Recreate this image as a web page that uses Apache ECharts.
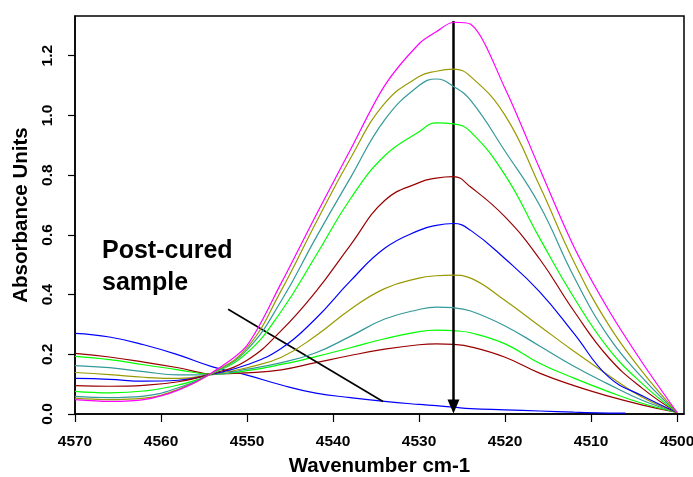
<!DOCTYPE html>
<html>
<head>
<meta charset="utf-8">
<script src="https://cdn.jsdelivr.net/npm/echarts@6/dist/echarts.min.js"></script>
<style>
html,body{margin:0;padding:0;background:#fff;}
#chart{width:693px;height:477px;}
</style>
</head>
<body>
<div id="chart"></div>
<script>
// Wavenumber grid (cm-1)
const wavenumbers = [4570, 4566, 4562, 4558, 4554, 4550, 4546, 4542, 4538, 4534, 4530, 4528, 4526, 4524, 4520, 4516, 4512, 4508, 4504, 4500];
const postCuredX = [4570, 4566, 4562, 4558, 4554, 4550, 4546, 4542, 4538, 4534, 4530, 4528, 4526, 4524, 4520, 4516, 4512, 4508, 4506];

// Absorbance spectra
const postCured = [0.270, 0.258, 0.232, 0.198, 0.158, 0.130, 0.097, 0.070, 0.055, 0.042, 0.032, 0.028, 0.023, 0.018, 0.014, 0.010, 0.006, 0.003, 0.003];
const spec01 = [0.203, 0.191, 0.174, 0.155, 0.134, 0.138, 0.148, 0.172, 0.196, 0.217, 0.232, 0.235, 0.233, 0.225, 0.190, 0.137, 0.095, 0.060, 0.030, 0.005];
const spec02 = [0.193, 0.182, 0.165, 0.148, 0.133, 0.145, 0.166, 0.192, 0.222, 0.252, 0.276, 0.281, 0.279, 0.272, 0.235, 0.170, 0.120, 0.075, 0.035, 0.005];
const spec03 = [0.162, 0.155, 0.142, 0.131, 0.132, 0.150, 0.172, 0.205, 0.260, 0.318, 0.350, 0.358, 0.356, 0.345, 0.295, 0.228, 0.160, 0.100, 0.045, 0.005];
const spec04 = [0.139, 0.132, 0.123, 0.119, 0.133, 0.155, 0.190, 0.262, 0.350, 0.420, 0.455, 0.463, 0.465, 0.455, 0.380, 0.295, 0.210, 0.130, 0.055, 0.005];
const spec05 = [0.119, 0.116, 0.110, 0.113, 0.134, 0.165, 0.220, 0.320, 0.445, 0.555, 0.615, 0.632, 0.638, 0.615, 0.520, 0.410, 0.270, 0.125, 0.060, 0.005];
const spec06 = [0.095, 0.093, 0.096, 0.108, 0.135, 0.180, 0.280, 0.410, 0.565, 0.715, 0.775, 0.790, 0.795, 0.760, 0.660, 0.520, 0.345, 0.190, 0.085, 0.005];
const spec07 = [0.076, 0.071, 0.077, 0.097, 0.136, 0.205, 0.345, 0.530, 0.720, 0.865, 0.945, 0.975, 0.972, 0.945, 0.800, 0.590, 0.390, 0.220, 0.100, 0.005];
const spec08 = [0.059, 0.055, 0.060, 0.088, 0.137, 0.215, 0.380, 0.590, 0.790, 0.985, 1.100, 1.122, 1.097, 1.050, 0.880, 0.700, 0.460, 0.260, 0.120, 0.005];
const spec09 = [0.053, 0.048, 0.053, 0.083, 0.138, 0.222, 0.415, 0.640, 0.855, 1.040, 1.130, 1.148, 1.155, 1.130, 1.000, 0.765, 0.510, 0.300, 0.140, 0.005];
const spec10 = [0.048, 0.042, 0.048, 0.080, 0.140, 0.230, 0.440, 0.665, 0.884, 1.100, 1.240, 1.280, 1.312, 1.305, 1.090, 0.823, 0.560, 0.350, 0.170, 0.005];

const spectra = [spec01, spec02, spec03, spec04, spec05, spec06, spec07, spec08, spec09, spec10];
const spectraColors = ['#990000', '#00ff00', '#339999', '#999900', '#0000ff', '#990000', '#00ff00', '#339999', '#999900', '#ff00ff'];
const postCuredColor = '#0000ff';

// Axis ticks
const xTicks = [4570, 4560, 4550, 4540, 4530, 4520, 4510, 4500];
const yTicks = [0.0, 0.2, 0.4, 0.6, 0.8, 1.0, 1.2];

// Annotations (data coordinates)
const arrowStart = [4526, 1.316];
const arrowEnd = [4526, 0.025];
const pointerStart = [4552.2, 0.351];
const pointerEnd = [4534.2, 0.042];
const noteText = 'Post-cured\nsample';

const chart = echarts.init(document.getElementById('chart'), null, {renderer: 'canvas', width: 693, height: 477});
const FONT = '"Liberation Sans", Arial, sans-serif';

const series = [];
series.push({
  type: 'line', name: 'post-cured',
  data: postCuredX.map((x, i) => [x, postCured[i]]),
  showSymbol: false, smooth: 0.45,
  lineStyle: {color: postCuredColor, width: 1.2},
  itemStyle: {color: postCuredColor},
  z: 2
});
spectra.forEach((s, k) => {
  series.push({
    type: 'line', name: 'spec' + (k + 1),
    data: wavenumbers.map((x, i) => [x, s[i]]),
    showSymbol: false, smooth: k === 9 ? 0.3 : 0.45,
    lineStyle: {color: spectraColors[k], width: 1.2},
    itemStyle: {color: spectraColors[k]},
    z: 3 + k
  });
});
series.push({
  type: 'line', name: 'annotations', data: [], z: 20,
  markLine: {
    silent: true, animation: false,
    label: {show: false},
    data: [
      [{coord: arrowStart, symbol: 'none', lineStyle: {color: '#000', width: 2.5, type: 'solid'}},
       {coord: arrowEnd, symbol: 'triangle', symbolSize: [12, 14], symbolRotate: 180}],
      [{coord: pointerStart, symbol: 'none', lineStyle: {color: '#000', width: 1.6, type: 'solid'}},
       {coord: pointerEnd, symbol: 'none'}]
    ],
    lineStyle: {color: '#000', type: 'solid'},
    emphasis: {disabled: true}
  }
});

chart.setOption({
  animation: false,
  backgroundColor: '#fff',
  grid: {left: 75, right: 9, top: 16, bottom: 63, show: true, borderColor: '#000', borderWidth: 1.5,
    containLabel: false, outerBoundsMode: 'none'},
  xAxis: {
    type: 'value', inverse: true, min: 4499.2, max: 4570,
    name: 'Wavenumber cm-1', nameLocation: 'middle', nameGap: 42,
    nameTextStyle: {fontFamily: FONT, fontWeight: 'bold', fontSize: 20.5, color: '#000'},
    axisLine: {show: true, onZero: false, lineStyle: {color: '#000', width: 1.5}},
    axisTick: {show: true, length: 8, inside: false, customValues: xTicks, lineStyle: {color: '#000', width: 1.2}},
    axisLabel: {customValues: xTicks, margin: 20, fontFamily: FONT, fontWeight: 'bold', fontSize: 15.5, color: '#000',
      formatter: v => String(Math.round(v))},
    splitLine: {show: false}
  },
  yAxis: {
    type: 'value', min: 0, max: 1.333,
    name: 'Absorbance Units', nameLocation: 'middle', nameGap: 41,
    nameTextStyle: {fontFamily: FONT, fontWeight: 'bold', fontSize: 20.5, color: '#000'},
    axisLine: {show: true, lineStyle: {color: '#000', width: 1.5}},
    axisTick: {show: true, length: 7, inside: false, customValues: yTicks, lineStyle: {color: '#000', width: 1.2}},
    axisLabel: {customValues: yTicks, rotate: 90, margin: 19, fontFamily: FONT, fontWeight: 'bold', fontSize: 15.5, color: '#000',
      formatter: v => Number(v).toFixed(1)},
    splitLine: {show: false}
  },
  graphic: [{
    type: 'text', left: 102, top: 235, z: 30,
    style: {text: noteText, fontFamily: FONT, fontWeight: 'bold', fontSize: 25, lineHeight: 32, fill: '#000'}
  }],
  series: series
});
</script>
</body>
</html>
